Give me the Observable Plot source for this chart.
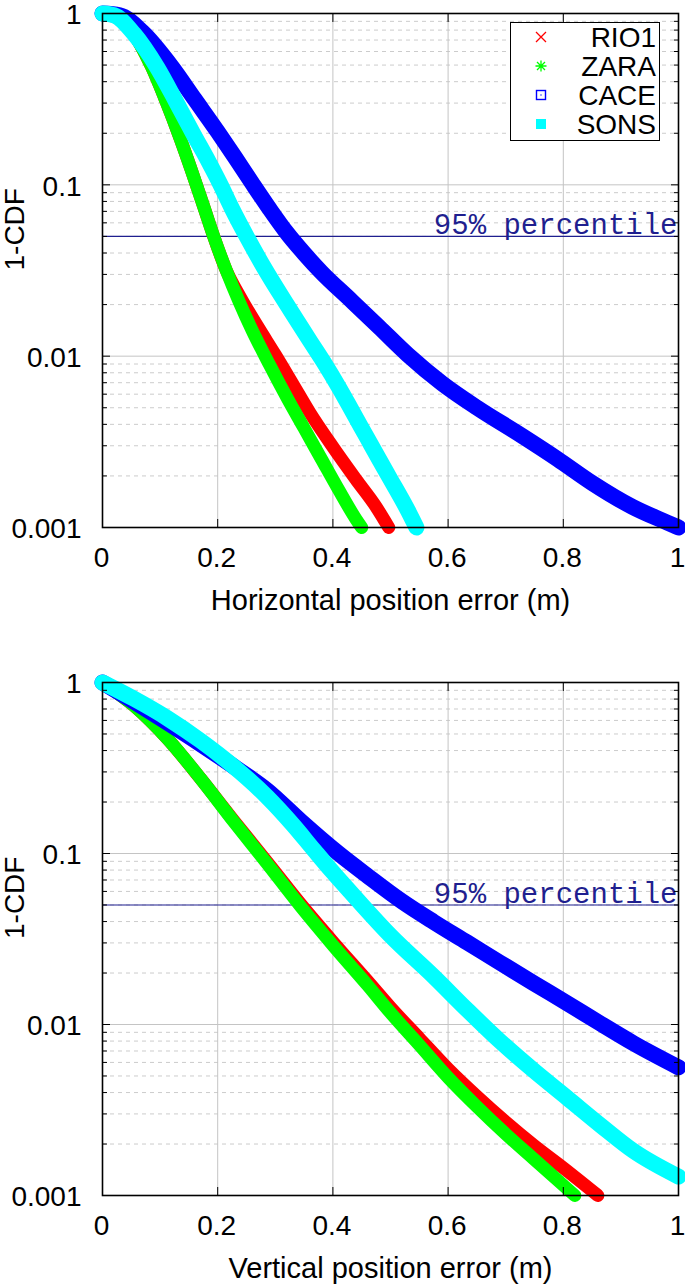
<!DOCTYPE html>
<html>
<head>
<meta charset="utf-8">
<script src="https://cdn.jsdelivr.net/npm/d3@7"></script>
<script src="https://cdn.jsdelivr.net/npm/@observablehq/plot@0.6"></script>
<style>
  html, body { margin: 0; padding: 0; background: #fff; }
  #wrap { position: relative; width: 685px; height: 1287px; overflow: hidden; }
  #wrap svg { display: block; }
  .legend { position: absolute; left: 510px; top: 22px; width: 148px; height: 117px;
            border: 1px solid #000; background: #fff;
            font-family: "Liberation Sans", Arial, sans-serif; font-size: 28px; color: #000; }
  .legend .row { position: absolute; left: 0; right: 0; height: 29px; line-height: 29px; }
  .legend .row svg { position: absolute; left: 23px; top: 7px; }
  .legend .row span { position: absolute; right: 3px; top: 0; }
</style>
</head>
<body>
<div id="wrap"></div>
<script>
// ---------- data ----------
const seriesNames  = ["RIO1", "ZARA", "CACE", "SONS"];
const seriesColors = ["#ff0000", "#00ff00", "#0000ff", "#00ffff"];

// Horizontal position error (top panel): x in m, y = 1-CDF
const hRio1X = [0, 0.02, 0.05, 0.085, 0.11, 0.135, 0.155, 0.175, 0.195, 0.215, 0.24, 0.27, 0.30, 0.33, 0.36, 0.40, 0.44, 0.475, 0.497];
const hRio1Y = [1, 0.966, 0.794, 0.490, 0.309, 0.186, 0.120, 0.0759, 0.0479, 0.0316, 0.0219, 0.0148, 0.0102, 0.00692, 0.00468, 0.00295, 0.00191, 0.00132, 0.001];
const hZaraX = [0, 0.02, 0.05, 0.085, 0.11, 0.135, 0.155, 0.175, 0.195, 0.215, 0.237, 0.26, 0.29, 0.32, 0.35, 0.38, 0.41, 0.44, 0.45];
const hZaraY = [1, 0.966, 0.794, 0.490, 0.309, 0.186, 0.120, 0.0759, 0.0479, 0.0316, 0.0209, 0.0141, 0.00891, 0.00575, 0.0038, 0.00251, 0.00166, 0.00112, 0.001];
const hCaceX = [0, 0.03, 0.07, 0.12, 0.16, 0.20, 0.23, 0.26, 0.29, 0.32, 0.35, 0.38, 0.43, 0.48, 0.53, 0.59, 0.65, 0.73, 0.79, 0.85, 0.92, 0.98, 1.0];
const hCaceY = [1, 0.977, 0.776, 0.490, 0.316, 0.204, 0.145, 0.102, 0.0724, 0.0525, 0.0398, 0.0309, 0.0214, 0.0148, 0.0102, 0.00692, 0.00501, 0.0034, 0.00251, 0.00182, 0.00132, 0.00107, 0.001];
const hSonsX = [0, 0.02, 0.055, 0.095, 0.127, 0.157, 0.185, 0.205, 0.225, 0.25, 0.28, 0.32, 0.36, 0.385, 0.41, 0.435, 0.46, 0.48, 0.50, 0.53, 0.545];
const hSonsY = [1, 0.977, 0.759, 0.484, 0.309, 0.200, 0.135, 0.1, 0.0724, 0.0501, 0.0331, 0.0200, 0.0123, 0.00912, 0.00661, 0.00468, 0.00331, 0.00251, 0.00191, 0.00126, 0.001];

// Vertical position error (bottom panel)
const vRio1X = [0, 0.054, 0.113, 0.170, 0.227, 0.286, 0.344, 0.401, 0.46, 0.50, 0.55, 0.60, 0.65, 0.70, 0.75, 0.80, 0.86];
const vRio1Y = [1, 0.735, 0.468, 0.275, 0.157, 0.0891, 0.0507, 0.0302, 0.0180, 0.0126, 0.00832, 0.0055, 0.0038, 0.00269, 0.00195, 0.00145, 0.001];
const vZaraX = [0, 0.054, 0.113, 0.170, 0.227, 0.286, 0.344, 0.401, 0.46, 0.50, 0.55, 0.60, 0.65, 0.70, 0.75, 0.82];
const vZaraY = [1, 0.735, 0.468, 0.275, 0.155, 0.0871, 0.0490, 0.0288, 0.0170, 0.0117, 0.00759, 0.0049, 0.00331, 0.00229, 0.00162, 0.001];
const vCaceX = [0, 0.054, 0.113, 0.170, 0.227, 0.286, 0.344, 0.41, 0.46, 0.52, 0.575, 0.633, 0.691, 0.749, 0.807, 0.865, 0.922, 1.0];
const vCaceY = [1, 0.776, 0.582, 0.437, 0.324, 0.234, 0.155, 0.1, 0.0741, 0.0525, 0.0398, 0.0302, 0.0229, 0.0174, 0.0133, 0.0101, 0.00776, 0.00562];
const vSonsX = [0, 0.054, 0.113, 0.170, 0.227, 0.286, 0.33, 0.367, 0.40, 0.445, 0.50, 0.575, 0.633, 0.691, 0.749, 0.807, 0.865, 0.922, 1.0];
const vSonsY = [1, 0.805, 0.617, 0.457, 0.324, 0.214, 0.148, 0.105, 0.0776, 0.0525, 0.0331, 0.0191, 0.0122, 0.00794, 0.00537, 0.00372, 0.00257, 0.00182, 0.00129];

// axes / ticks / annotations
const xTickValues = [0, 0.2, 0.4, 0.6, 0.8, 1];
const xTickLabels = ["0", "0.2", "0.4", "0.6", "0.8", "1"];
const xGridValues = [0.2, 0.4, 0.6, 0.8];
const yTickValues = [1, 0.1, 0.01, 0.001];
const yTickLabels = ["1", "0.1", "0.01", "0.001"];
const yGridValues = [0.1, 0.01];
const yMinorValues = [0.002,0.003,0.004,0.005,0.006,0.007,0.008,0.009,
                      0.02,0.03,0.04,0.05,0.06,0.07,0.08,0.09,
                      0.2,0.3,0.4,0.5,0.6,0.7,0.8,0.9];
const percentileValue = 0.05;
const percentileLabel = "95% percentile";
const yTitle = "1-CDF";
const topXTitle = "Horizontal position error (m)";
const bottomXTitle = "Vertical position error (m)";

// ---------- drawing ----------
const SANS = "Liberation Sans, Arial, Helvetica, sans-serif";
const MONO = "Courier New, Liberation Mono, monospace";
const widths = [13, 13, 16, 16];

function rowsOf(xs, ys) { return xs.map((x, i) => ({x, y: ys[i]})); }

function panel(seriesXY, height, marginTop, marginBottom, xTitle) {
  const lineMarks = seriesXY.map(([xs, ys], i) =>
    Plot.line(rowsOf(xs, ys), {x: "x", y: "y", stroke: seriesColors[i], strokeWidth: widths[i],
      curve: "monotone-x", strokeLinecap: "round", strokeLinejoin: "round"}));
  return Plot.plot({
    width: 685, height, marginTop, marginBottom, marginLeft: 102, marginRight: 7,
    x: {domain: [0, 1], axis: null},
    y: {type: "log", domain: [0.001, 1], axis: null},
    style: {fontFamily: SANS, fontSize: "28px", background: "#fff", color: "#000", overflow: "visible"},
    marks: [
      Plot.ruleY(yMinorValues, {stroke: "#cccccc", strokeDasharray: "4,4"}),
      Plot.ruleY(yGridValues, {stroke: "#c4c4c4"}),
      Plot.ruleX(xGridValues, {stroke: "#c4c4c4"}),
      Plot.ruleY([percentileValue], {stroke: "#1f1f8f", strokeWidth: 1.2}),
      Plot.text([percentileLabel], {y: () => percentileValue, text: d => d, frameAnchor: "right",
        textAnchor: "end", lineAnchor: "bottom", dy: -2, dx: -1, fontFamily: MONO, fontSize: 29, fill: "#1f1f8f"}),
      ...lineMarks,
      Plot.frame({stroke: "#000", strokeWidth: 1.6}),
      // inward tick marks
      Plot.axisY(yTickValues, {anchor: "left", tickSize: 8, dx: 8, tickFormat: () => "", label: null}),
      Plot.axisY(yMinorValues, {anchor: "left", tickSize: 5, dx: 5, tickFormat: () => "", label: null}),
      Plot.axisY(yTickValues, {anchor: "right", tickSize: 8, dx: -8, tickFormat: () => "", label: null}),
      Plot.axisY(yMinorValues, {anchor: "right", tickSize: 5, dx: -5, tickFormat: () => "", label: null}),
      Plot.axisX(xGridValues, {anchor: "bottom", tickSize: 8, dy: -8, tickFormat: () => "", label: null}),
      Plot.axisX(xGridValues, {anchor: "top", tickSize: 8, dy: 8, tickFormat: () => "", label: null}),
      // labels
      Plot.axisY(yTickValues, {anchor: "left", tickSize: 0, tickPadding: 21, dy: 2,
        tickFormat: d => yTickLabels[yTickValues.indexOf(d)], label: null, fontSize: 28}),
      Plot.axisX(xTickValues, {anchor: "bottom", tickSize: 0, tickPadding: 20, dx: -1,
        tickFormat: d => xTickLabels[xTickValues.indexOf(d)], label: null, fontSize: 28}),
      Plot.text([xTitle], {text: d => d, frameAnchor: "bottom", dy: 73, lineAnchor: "middle", fontSize: 29}),
      Plot.text([yTitle], {text: d => d, frameAnchor: "left", dx: -87, rotate: -90, lineAnchor: "middle", fontSize: 28})
    ]
  });
}

const wrap = document.getElementById("wrap");
wrap.appendChild(panel([[hRio1X, hRio1Y], [hZaraX, hZaraY], [hCaceX, hCaceY], [hSonsX, hSonsY]], 640, 13, 113, topXTitle));
wrap.appendChild(panel([[vRio1X, vRio1Y], [vZaraX, vZaraY], [vCaceX, vCaceY], [vSonsX, vSonsY]], 647, 42, 92, bottomXTitle));

// legend (top panel)
const symbolSvg = [
  c => `<svg width="14" height="14"><path d="M2,2L12,12M12,2L2,12" stroke="${c}" stroke-width="1.3"/></svg>`,
  c => `<svg width="14" height="14"><path d="M7,1.5V12.5M1.5,7H12.5M3,3L11,11M11,3L3,11" stroke="${c}" stroke-width="1.3"/></svg>`,
  c => `<svg width="14" height="14"><rect x="2.5" y="2.5" width="9" height="9" fill="none" stroke="${c}" stroke-width="1.4"/><rect x="6.4" y="6.4" width="1.2" height="1.2" fill="${c}"/></svg>`,
  c => `<svg width="14" height="14"><rect x="2" y="2" width="10" height="10" fill="${c}"/></svg>`
];
const legend = document.createElement("div");
legend.className = "legend";
seriesNames.forEach((name, i) => {
  const row = document.createElement("div");
  row.className = "row";
  row.style.top = (i * 29) + "px";
  row.innerHTML = symbolSvg[i](seriesColors[i]) + `<span>${name}</span>`;
  legend.appendChild(row);
});
wrap.appendChild(legend);
</script>
</body>
</html>
